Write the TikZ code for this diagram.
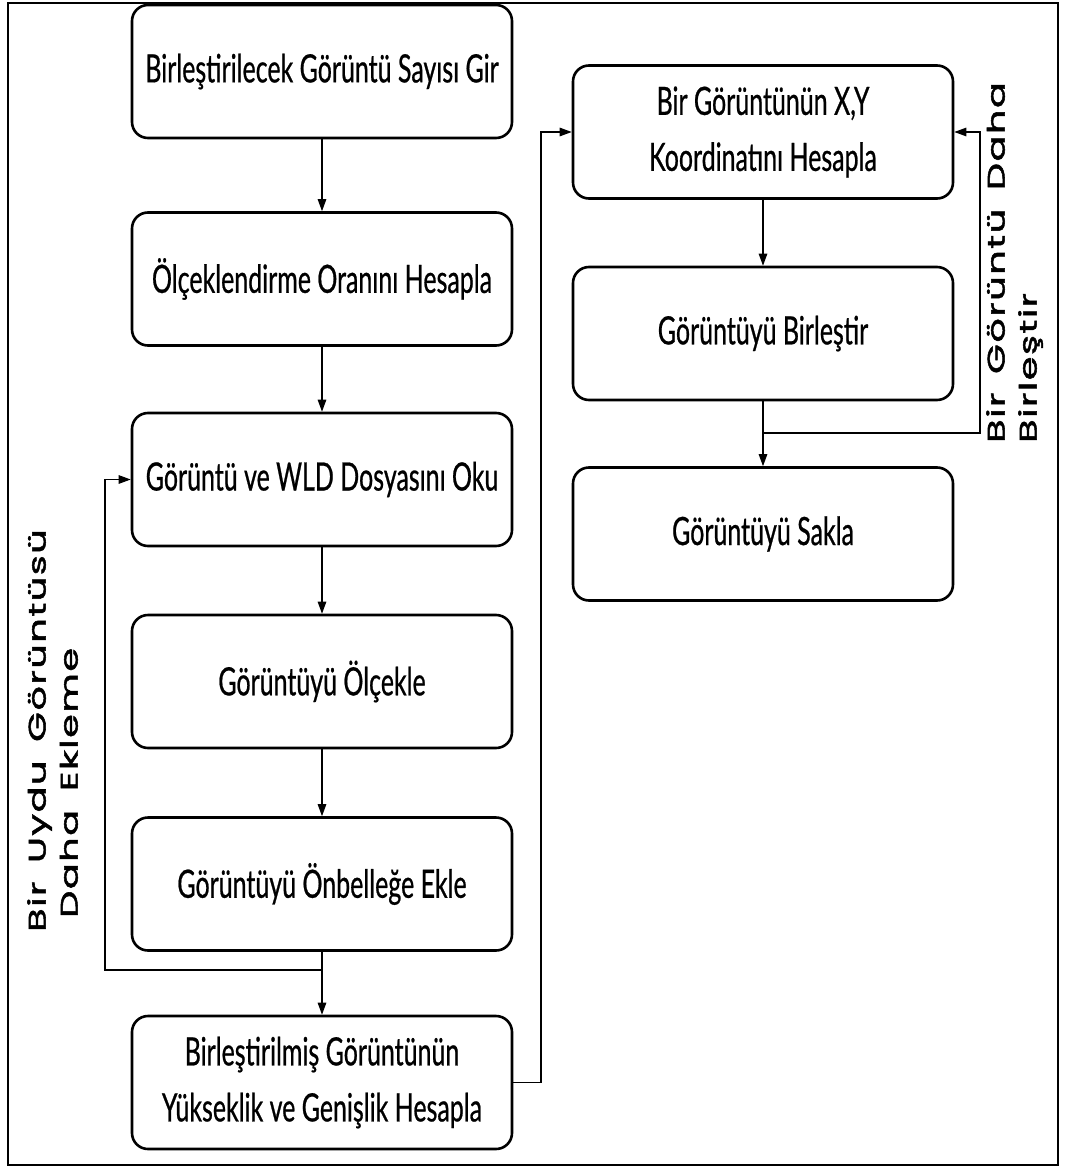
\documentclass[tikz,border=0pt]{standalone}
\usepackage{fontspec}
\usetikzlibrary{arrows.meta}
\newfontfamily\boxfont[FakeStretch=0.64,FakeBold=0.6]{Lato}
\newfontfamily\labelfont[FakeStretch=1.6,FakeBold=2.2,LetterSpace=6,WordSpace=1.6]{Poppins}
\tikzset{
  stepbox/.style={draw, line width=2.6pt, rounded corners=16pt,
    minimum width=380pt, minimum height=133pt, align=center, inner sep=0pt,
    font=\boxfont\fontsize{39}{56}\selectfont},
  flow/.style={line width=1.2pt, -{Triangle[length=12pt,width=8.5pt]}},
  sidelabel/.style={rotate=90, align=left, inner sep=0pt,
    font=\labelfont\fontsize{24}{32}\selectfont},
}
\begin{document}
\begin{tikzpicture}[x=1pt,y=-1pt]
\useasboundingbox (0,0) rectangle (1065,1169);
\draw[line width=1.8pt] (8,3) rectangle (1058,1165);

% left column
\node[stepbox] (b1) at (322,71.5) {Birleştirilecek Görüntü Sayısı Gir};
\node[stepbox] (b2) at (322,279) {Ölçeklendirme Oranını Hesapla};
\node[stepbox] (b3) at (322,479.5) {Görüntü ve WLD Dosyasını Oku};
\node[stepbox] (b4) at (322,681.5) {Görüntüyü Ölçekle};
\node[stepbox] (b5) at (322,884) {Görüntüyü Önbelleğe Ekle};
\node[stepbox] (b6) at (322,1082.5) {Birleştirilmiş Görüntünün\\Yükseklik ve Genişlik Hesapla};

% right column
\node[stepbox] (r1) at (763,132) {Bir Görüntünün X,Y\\Koordinatını Hesapla};
\node[stepbox] (r2) at (763,333.5) {Görüntüyü Birleştir};
\node[stepbox] (r3) at (763,534) {Görüntüyü Sakla};

% main flow
\draw[flow] (b1) -- (b2);
\draw[flow] (b2) -- (b3);
\draw[flow] (b3) -- (b4);
\draw[flow] (b4) -- (b5);
\draw[flow] (b5) -- (b6);
\draw[flow] (b6.east) -- (541,1082.5) |- (r1.west);
\draw[flow] (r1) -- (r2);
\draw[flow] (r2) -- (r3);

% loops
\coordinate (jl) at (322,970);
\draw[flow] (jl) -- (105,970) |- (b3.west);
\coordinate (jr) at (763,433);
\draw[flow] (jr) -- (980,433) |- (r1.east);

% loop labels
\node[sidelabel, anchor=south west] (lab1) at (78,932) {Bir Uydu Görüntüsü\\\hspace*{14pt}Daha Ekleme};
\node[sidelabel, anchor=south west] (lab2) at (1043,443) {Bir Görüntü Daha\\Birleştir};
\end{tikzpicture}
\end{document}
